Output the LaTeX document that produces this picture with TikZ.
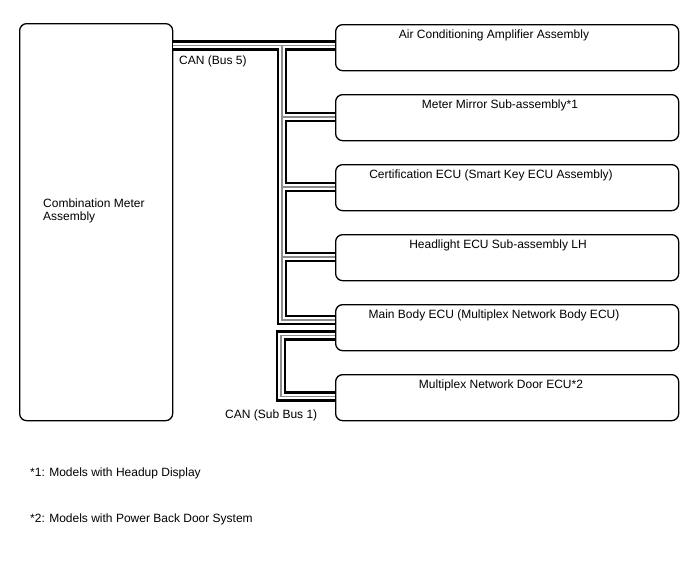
\documentclass[tikz,border=0pt]{standalone}
\usepackage{fontspec}
\setmainfont{Liberation Sans}
\newcommand\busnet[1]{%
  \draw[#1] (cm.east |- t0) -- (b1.west |- t0);
  \draw[#1] (t0) -- (t5) -- (b5.west |- t5);
  \foreach \k in {2,3,4} {\draw[#1] (t\k) -- (b\k.west |- t\k);}
  \draw[#1] (b5.west |- s0) -- (s0) -- (s6) -- (b6.west |- s6);
}
\begin{document}
\begin{tikzpicture}[x=1pt,y=-1pt,
  unit/.style={draw, rounded corners=7pt, line width=1.3pt, minimum width=343pt,
    minimum height=46pt, anchor=north west, inner sep=0pt},
  meter/.style={draw, rounded corners=7pt, line width=1.3pt, minimum width=153pt,
    minimum height=397pt, anchor=north west, inner sep=0pt},
  lbl/.style={anchor=base, inner sep=0pt, font=\fontsize{12}{14}\selectfont},
  lbll/.style={anchor=base west, inner sep=0pt, font=\fontsize{12}{14}\selectfont},
]
\useasboundingbox (0,0) rectangle (688,560);

\node[meter] (cm) at (19,23) {};
\node[unit] (b1) at (335,24) {};
\node[unit] (b2) at (335,94) {};
\node[unit] (b3) at (335,164) {};
\node[unit] (b4) at (335,234) {};
\node[unit] (b5) at (335,304) {};
\node[unit] (b6) at (335,374) {};

\coordinate (t0) at (282,45.5);
\coordinate (t2) at (282,117);
\coordinate (t3) at (282,187);
\coordinate (t4) at (282,257);
\coordinate (t5) at (282,320);
\coordinate (s0) at (281,335.5);
\coordinate (s6) at (281,396.5);

\busnet{line width=10.5pt, black}
\busnet{line width=5.5pt, white}
\busnet{line width=1.5pt, black!45}

\node[lbl] (l1) at (494,38.5) {Air Conditioning Amplifier Assembly};
\node[lbl] (l2) at (500,108.5) {Meter Mirror Sub-assembly*1};
\node[lbl] (l3) at (491,178.5) {Certification ECU (Smart Key ECU Assembly)};
\node[lbl] (l4) at (498,248.5) {Headlight ECU Sub-assembly LH};
\node[lbl] (l5) at (494,318.5) {Main Body ECU (Multiplex Network Body ECU)};
\node[lbl] (l6) at (501,388.5) {Multiplex Network Door ECU*2};

\node[lbll] (cmt1) at (43,207) {Combination Meter};
\node[lbll] (cmt2) at (43,220) {Assembly};

\node[lbll] (can5) at (179,64.5) {CAN (Bus 5)};
\node[lbll] (cans) at (225,418) {CAN (Sub Bus 1)};

\node[lbll] (f1) at (30,476) {*1: Models with Headup Display};
\node[lbll] (f2) at (30,522) {*2: Models with Power Back Door System};
\end{tikzpicture}
\end{document}
